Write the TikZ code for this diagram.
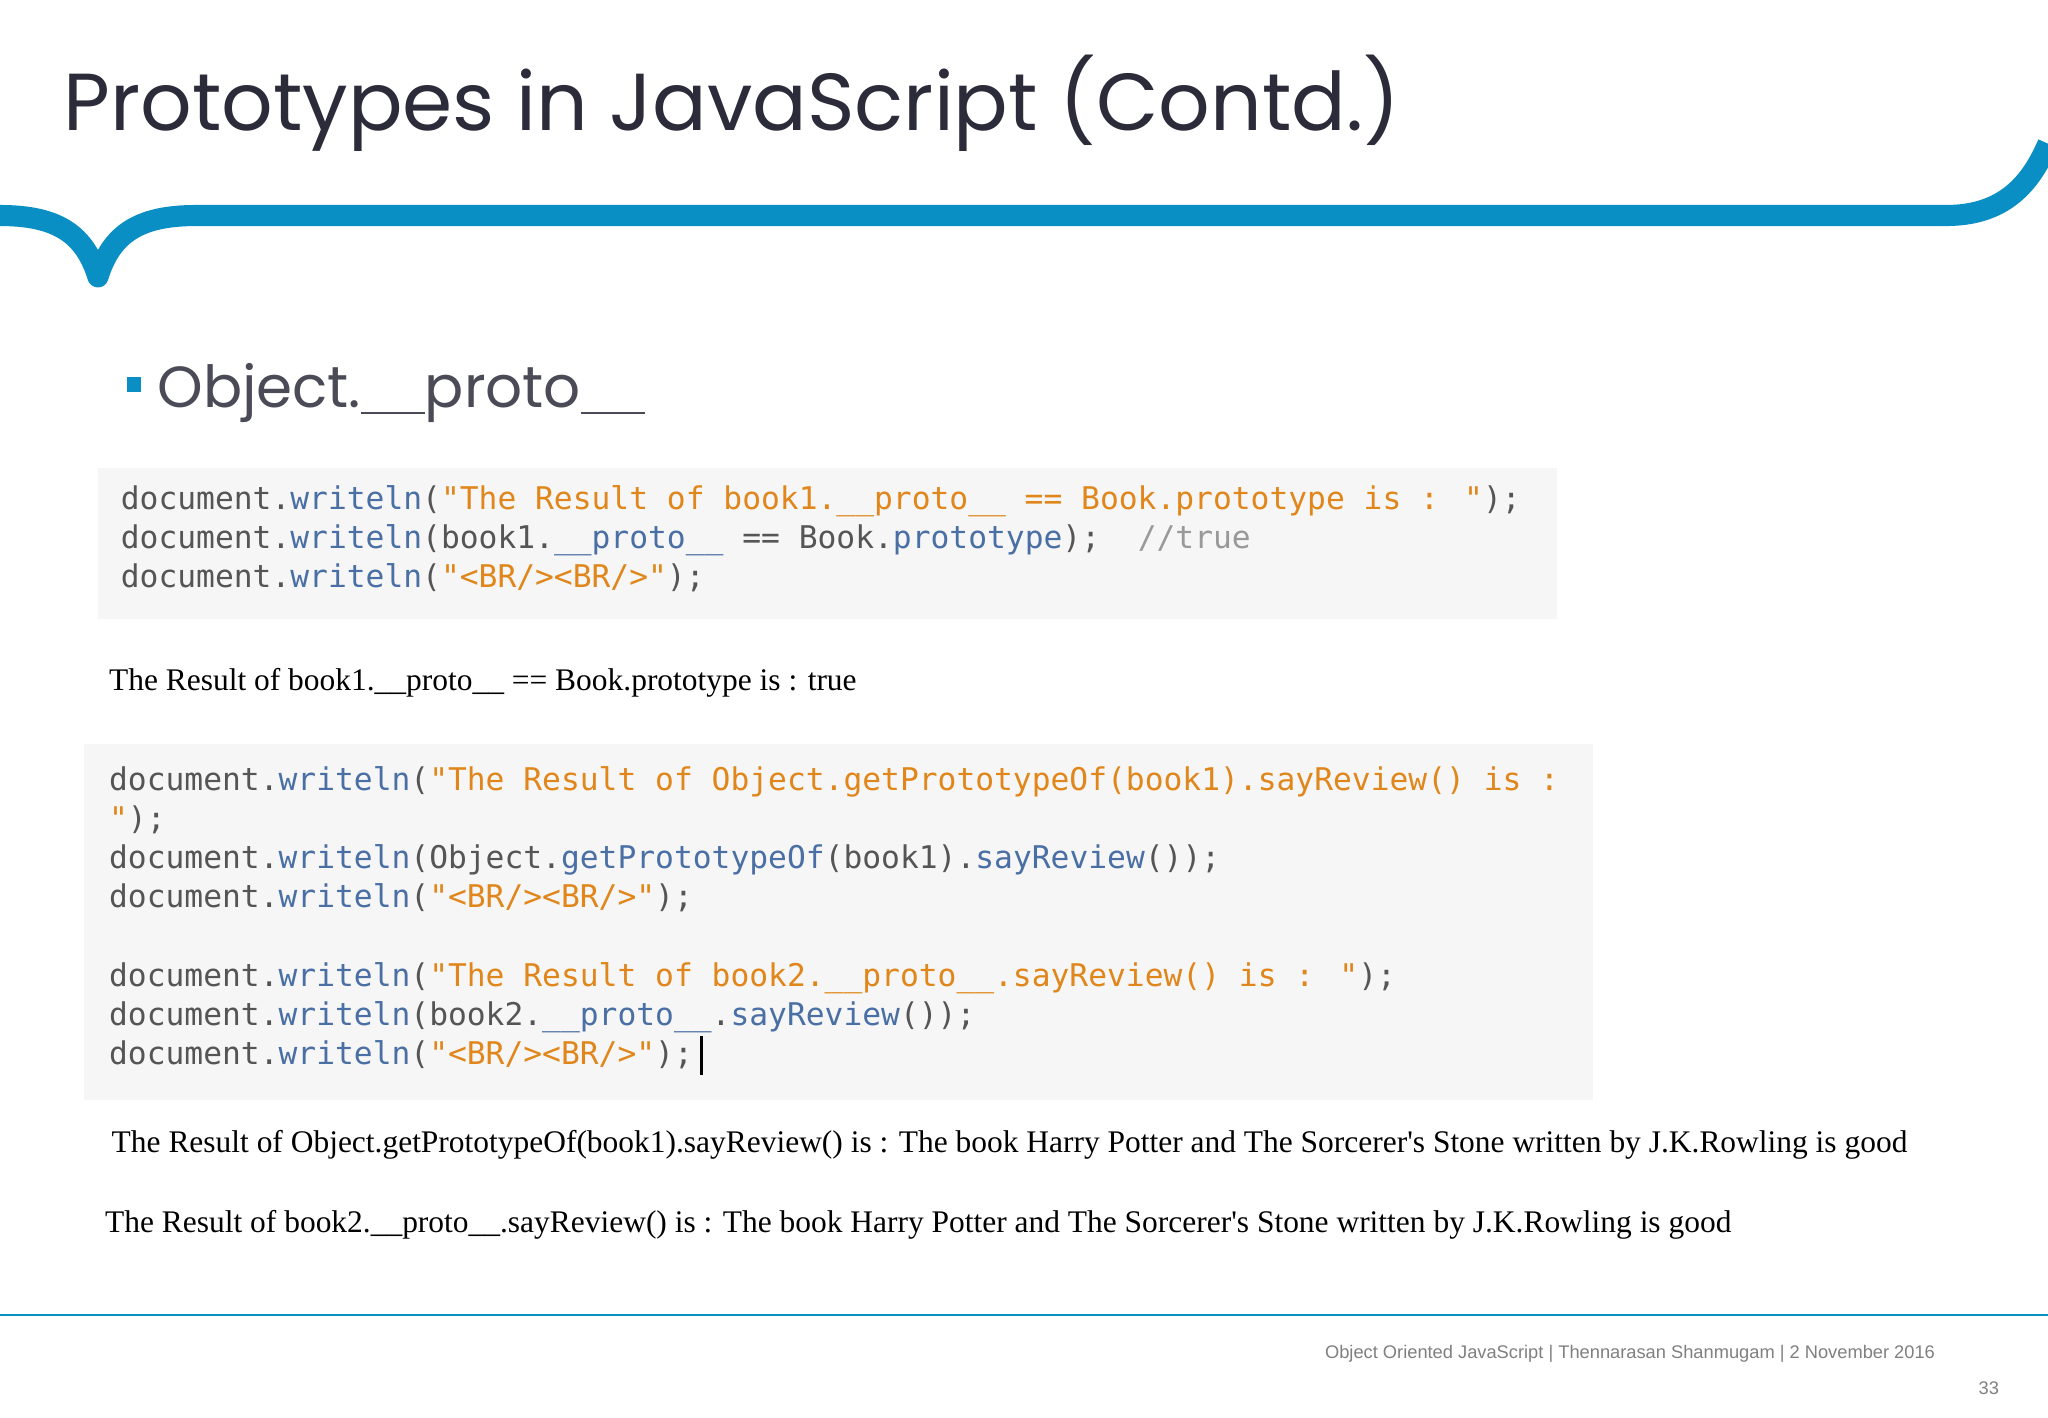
\documentclass[tikz,border=0pt]{standalone}
\usepackage{fontspec}
\setmainfont{Liberation Serif}
\newfontfamily\titlefont{Poppins}
\newfontfamily\codefont{DejaVu Sans Mono}
\newfontfamily\footfont{Liberation Sans}
\definecolor{wave}{HTML}{0A8FC4}
\definecolor{cbg}{HTML}{F6F6F6}
\definecolor{cg}{HTML}{555555}
\definecolor{cb}{HTML}{4A6FA5}
\definecolor{co}{HTML}{E0861A}
\definecolor{cc}{HTML}{999999}
\definecolor{ttl}{HTML}{2B2B3A}
\newcommand{\G}[1]{\textcolor{cg}{#1}}
\newcommand{\B}[1]{\textcolor{cb}{#1}}
\newcommand{\Or}[1]{\textcolor{co}{#1}}
\newcommand{\dus}{\rule[-0.12em]{1.1em}{0.045em}}
\newcommand{\apos}{\textquotesingle}
\begin{document}
\begin{tikzpicture}[x=0.01306cm,y=-0.01306cm,
  code/.style={anchor=base west,inner sep=0,font=\codefont\fontsize{8.9pt}{10pt}\selectfont},
  outp/.style={anchor=base west,inner sep=0,font=\fontsize{8.95pt}{10pt}\selectfont}]
\useasboundingbox (0,0) rectangle (1568,1085);
\fill[white] (0,0) rectangle (1568,1085);
\node[anchor=base west,inner sep=0,text=ttl,font=\titlefont\fontsize{23pt}{26pt}\selectfont] (title) at (48,100) {Prototypes in JavaScript (Contd.)};
\draw[wave,line width=6pt,line join=round] (0,165) .. controls (45,165) and (65,180) .. (75,212) .. controls (85,180) and (105,165) .. (150,165) -- (1490,165) .. controls (1535,165) and (1555,140) .. (1568,110);
\fill[wave] (97,289) rectangle (108,300);
\node[anchor=base west,inner sep=0,text=ttl!85,font=\titlefont\fontsize{16.5pt}{20pt}\selectfont] (bul) at (120,312) {Object.\dus proto\dus};
\fill[cbg] (75,358) rectangle (1192,474);
\node[code] (a1) at (92,390) {\G{document.}\B{writeln}\G{(}\Or{"The Result of book1.\_\_proto\_\_ == Book.prototype is : "}\G{);}};
\node[code] (a2) at (92,420) {\G{document.}\B{writeln}\G{(book1.}\B{\_\_proto\_\_}\G{\ ==\ Book.}\B{prototype}\G{);\ \ }\textcolor{cc}{//true}};
\node[code] (a3) at (92,450) {\G{document.}\B{writeln}\G{(}\Or{"<BR/><BR/>"}\G{);}};
\node[outp] (o1) at (83,529) {The Result of book1.\_\_proto\_\_ == Book.prototype is : true};
\fill[cbg] (64,570) rectangle (1220,842);
\node[code] (b1) at (83,605) {\G{document.}\B{writeln}\G{(}\Or{"The Result of Object.getPrototypeOf(book1).sayReview() is :}};
\node[code] (b2) at (83,635) {\Or{"}\G{);}};
\node[code] (b3) at (83,665) {\G{document.}\B{writeln}\G{(Object.}\B{getPrototypeOf}\G{(book1).}\B{sayReview}\G{());}};
\node[code] (b4) at (83,695) {\G{document.}\B{writeln}\G{(}\Or{"<BR/><BR/>"}\G{);}};
\node[code] (b5) at (83,755) {\G{document.}\B{writeln}\G{(}\Or{"The Result of book2.\_\_proto\_\_.sayReview() is : "}\G{);}};
\node[code] (b6) at (83,785) {\G{document.}\B{writeln}\G{(book2.}\B{\_\_proto\_\_}\G{.}\B{sayReview}\G{());}};
\node[code] (b7) at (83,815) {\G{document.}\B{writeln}\G{(}\Or{"<BR/><BR/>"}\G{);}};
\draw[black,line width=0.6pt] (b7.base east) ++(6,8) -- ++(0,-30);
\node[outp] (o2) at (85,882) {The Result of Object.getPrototypeOf(book1).sayReview() is : The book Harry Potter and The Sorcerer\apos s Stone written by J.K.Rowling is good};
\node[outp] (o3) at (80,944) {The Result of book2.\_\_proto\_\_.sayReview() is : The book Harry Potter and The Sorcerer\apos s Stone written by J.K.Rowling is good};
\draw[wave,line width=0.6pt] (0,1007) -- (1568,1007);
\node[anchor=base east,inner sep=0,text=gray,font=\footfont\fontsize{5.2pt}{6pt}\selectfont] (ft) at (1482,1040) {Object Oriented JavaScript | Thennarasan Shanmugam | 2 November 2016};
\node[anchor=base east,inner sep=0,text=gray,font=\footfont\fontsize{5.2pt}{6pt}\selectfont] (pg) at (1531,1068) {33};
\end{tikzpicture}
\end{document}
